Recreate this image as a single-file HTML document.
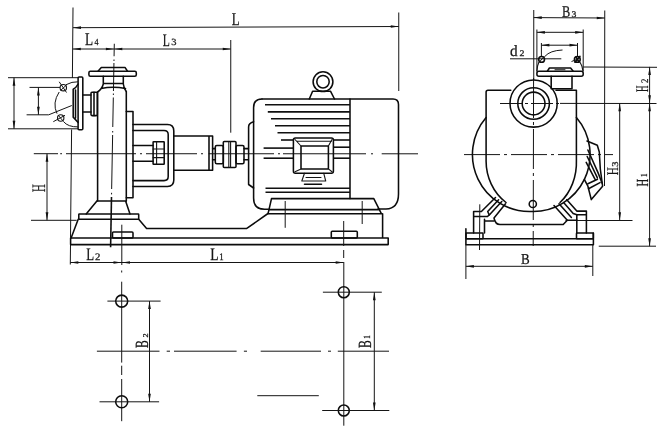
<!DOCTYPE html>
<html><head><meta charset="utf-8"><title>Pump installation dimensions</title>
<style>
html,body{margin:0;padding:0;background:#fff;}
body{width:664px;height:440px;overflow:hidden;}
svg{display:block;}
.o{fill:none;stroke:#0c0c0c;stroke-width:1.55;stroke-linecap:round;stroke-linejoin:round;}
.m{fill:none;stroke:#141414;stroke-width:1.1;stroke-linecap:round;stroke-linejoin:round;}
.f{fill:none;stroke:#101010;stroke-width:1.6;}
.d{fill:none;stroke:#151515;stroke-width:1.0;}
.c{fill:none;stroke:#151515;stroke-width:1.0;}
.a{fill:#111;stroke:none;}
.t{font-family:"Liberation Serif","DejaVu Serif",serif;fill:#161616;stroke:#161616;stroke-width:0.25;text-rendering:geometricPrecision;}
svg{will-change:transform;opacity:0.999;}
</style></head><body>
<svg width="664" height="440" viewBox="0 0 664 440">
<rect x="0" y="0" width="664" height="440" fill="#fff"/>
<line x1="73" y1="7.5" x2="72.4" y2="78" class="d" />
<line x1="71.6" y1="129.5" x2="70.5" y2="237.5" class="d" />
<line x1="73" y1="27.7" x2="398.75" y2="26.5" class="d" />
<polygon points="73.00,27.70 81.00,26.35 81.00,29.05" class="a"/>
<polygon points="398.75,26.50 390.75,25.15 390.75,27.85" class="a"/>
<line x1="398.75" y1="12.5" x2="398.75" y2="91" class="d" />
<line x1="72.8" y1="49" x2="230.75" y2="49" class="d" />
<polygon points="72.80,49.00 80.80,47.65 80.80,50.35" class="a"/>
<polygon points="113.90,49.00 105.90,47.65 105.90,50.35" class="a"/>
<polygon points="114.30,49.00 122.30,47.65 122.30,50.35" class="a"/>
<polygon points="230.75,49.00 222.75,47.65 222.75,50.35" class="a"/>
<line x1="230.75" y1="40" x2="230.75" y2="132.7" class="d" />
<line x1="114.3" y1="43.75" x2="114.07" y2="56.25" class="c" />
<line x1="114.01" y1="59.5" x2="113.98" y2="61" class="c" />
<line x1="113.95" y1="63" x2="113.44" y2="91" class="c" />
<line x1="113.39" y1="93.5" x2="113.36" y2="95" class="c" />
<line x1="113.32" y1="97.5" x2="112.78" y2="127" class="c" />
<line x1="112.71" y1="131" x2="112.68" y2="132.5" class="c" />
<line x1="112.64" y1="135" x2="111.65" y2="189" class="c" />
<line x1="111.59" y1="192.8" x2="111.56" y2="194.4" class="c" />
<line x1="111.5" y1="197" x2="110.6" y2="247.3" class="f" />
<line x1="33.8" y1="153.7" x2="58" y2="153.71" class="c" />
<line x1="60.2" y1="153.71" x2="62" y2="153.71" class="c" />
<line x1="66" y1="153.71" x2="136" y2="153.73" class="c" />
<line x1="140" y1="153.73" x2="142" y2="153.73" class="c" />
<line x1="146" y1="153.73" x2="197" y2="153.74" class="c" />
<line x1="201" y1="153.74" x2="203" y2="153.74" class="c" />
<line x1="208.6" y1="153.75" x2="274" y2="153.76" class="c" />
<line x1="278" y1="153.76" x2="280" y2="153.76" class="c" />
<line x1="283" y1="153.76" x2="366" y2="153.79" class="c" />
<line x1="371" y1="153.79" x2="373" y2="153.79" class="c" />
<line x1="381.7" y1="153.79" x2="418" y2="153.8" class="c" />
<line x1="47" y1="153.75" x2="47" y2="220.3" class="d" />
<polygon points="47.00,153.75 45.65,161.75 48.35,161.75" class="a"/>
<polygon points="47.00,220.30 45.65,212.30 48.35,212.30" class="a"/>
<line x1="31" y1="220.3" x2="76.7" y2="220.3" class="d" />
<line x1="8" y1="77.7" x2="78" y2="77.7" class="d" />
<line x1="8" y1="128.8" x2="78" y2="128.8" class="d" />
<line x1="14" y1="77.7" x2="14" y2="128.8" class="d" />
<polygon points="14.00,77.70 12.65,85.70 15.35,85.70" class="a"/>
<polygon points="14.00,128.80 12.65,120.80 15.35,120.80" class="a"/>
<line x1="29.5" y1="87.4" x2="60" y2="87.4" class="d" />
<line x1="26.6" y1="114.8" x2="48.7" y2="114.8" class="d" />
<line x1="48.7" y1="114.8" x2="71.8" y2="105.5" class="d" />
<line x1="38.4" y1="87.4" x2="38.4" y2="114.8" class="d" />
<polygon points="38.40,87.40 37.05,95.40 39.75,95.40" class="a"/>
<polygon points="38.40,114.80 37.05,106.80 39.75,106.80" class="a"/>
<line x1="70.5" y1="244.5" x2="70.3" y2="264.5" class="d" />
<line x1="70.3" y1="262.5" x2="343.7" y2="262.5" class="d" />
<polygon points="70.30,262.50 78.30,261.15 78.30,263.85" class="a"/>
<polygon points="121.50,262.50 113.50,261.15 113.50,263.85" class="a"/>
<polygon points="122.00,262.50 130.00,261.15 130.00,263.85" class="a"/>
<polygon points="343.70,262.50 335.70,261.15 335.70,263.85" class="a"/>
<rect x="78.1" y="77" width="4.7" height="52.8" rx="1" class="o"/>
<path d="M73.2 89.2 V117.3 L78.1 122.4 M73.2 89.2 Q76 88 78.1 84 M75.5 90 V118" class="o" />
<path d="M65.8 84.8 Q72 81.5 78 81.8 M63.6 121.7 Q68 127 78 126.9" class="d" />
<circle cx="63.3" cy="87.7" r="3.2" class="m"/>
<circle cx="60.7" cy="118" r="3.2" class="m"/>
<path d="M59.2 81.8 L66.5 92.5 M60.5 90.5 L66.5 85 M53.3 121.7 L65 115.3 M58 115 L63.5 121.5" class="d" />
<path d="M59.2 92 Q52 103 57 113.6" class="d" />
<path d="M82.8 95 H91 M82.8 112 H91" class="o" />
<rect x="91" y="92.2" width="6.3" height="23.4" rx="1" class="o"/>
<line x1="94" y1="92.2" x2="94" y2="115.6" class="o" />
<path d="M97.6 92 V201 M126.3 91.5 V201" class="o" />
<rect x="88.9" y="71.2" width="47.4" height="5.1" rx="1.5" class="o"/>
<path d="M98 71.2 L101.3 67.4 H125 L127.5 71.2" class="o" />
<path d="M103.3 76.3 V84 Q102 89 97.6 92 M123.3 76.3 V84 Q124 89 126.3 91.5 M103.3 83.5 H123.3 M101 88.5 Q113 86 125.5 88.5" class="o" />
<path d="M126.3 111.5 H133 V197.7 H126.3" class="o" />
<path d="M133 124.5 H167.5 Q173.8 124.5 173.8 131 V180 Q173.8 186.4 167.5 186.4 H133" class="o" />
<path d="M133 130.5 H164 Q168.2 130.5 168.2 134.5 V176.5 Q168.2 180.6 164 180.6 H133" class="o" />
<path d="M133 145.4 H153 M133 161.2 H153" class="o" />
<rect x="153.1" y="141.8" width="11.1" height="22.4" rx="0.5" class="o"/>
<path d="M153.1 149 H164.2 M153.1 157.6 H164.2 M156.6 141.8 V164.2" class="m" />
<path d="M173.8 136 H212.6 V170.2 H173.8 M209 136 V170.2" class="o" />
<path d="M212.6 148.6 H215.3 M212.6 159.7 H215.3" class="o" />
<rect x="215.3" y="145.4" width="8.0" height="18.3" rx="1.5" class="o"/>
<rect x="223.3" y="141.5" width="12.7" height="25.9" rx="1" class="o"/>
<path d="M228.8 141.5 V167.4 M230.6 141.5 V167.4" class="m" />
<rect x="236" y="145.4" width="8" height="18.3" rx="1.5" class="o"/>
<path d="M244 148.6 H248.4 M244 159.7 H248.4" class="o" />
<path d="M96.9 201 H126.3 M96.9 201 L86.2 214 M125.6 201 L130 214" class="o" />
<rect x="78.8" y="214" width="59.9" height="5.2" rx="0.5" class="o"/>
<path d="M78.2 219.2 L71.2 237.8 M138.7 219.2 L146.6 228.4 H246.8 L268 213.5" class="o" />
<path d="M70.8 238 H384 M70.6 238 V244.6 H388.2 V238 H384 M382.6 213.8 V238" class="o" />
<rect x="112.5" y="232" width="20.5" height="6" rx="1" class="o"/>
<rect x="331.3" y="231.3" width="26.0" height="6.7" rx="1" class="o"/>
<line x1="121.8" y1="224.7" x2="121.8" y2="265" class="d" />
<line x1="343.7" y1="221" x2="343.7" y2="246" class="d" />
<line x1="343.7" y1="250" x2="343.7" y2="258" class="d" />
<path d="M262 99 H393 Q398.5 99 398.5 104.5 V194 Q398.5 208.5 386 209 H378" class="o" />
<path d="M262 99 Q253.6 99 253.6 107.5 V198 Q253.6 209.3 264.5 209.3 H268.5" class="o" />
<path d="M253.6 121.8 Q248.6 123 248.6 127 V184.5 L253.6 188" class="o" />
<line x1="350" y1="99" x2="350" y2="198.6" class="o" />
<line x1="265" y1="104.8" x2="350" y2="104.8" class="f" />
<line x1="267.8" y1="111.9" x2="350" y2="111.9" class="f" />
<line x1="271" y1="118.8" x2="350" y2="118.8" class="f" />
<line x1="275" y1="125.7" x2="350" y2="125.7" class="f" />
<line x1="277.5" y1="132.8" x2="350" y2="132.8" class="f" />
<line x1="281" y1="140" x2="293.4" y2="140" class="f" />
<line x1="333.2" y1="140" x2="350" y2="140" class="f" />
<line x1="263.6" y1="148.1" x2="293.4" y2="148.1" class="f" />
<line x1="333.2" y1="147.2" x2="350" y2="147.2" class="f" />
<line x1="263.6" y1="158.2" x2="293.4" y2="158.2" class="f" />
<line x1="333.2" y1="158.2" x2="350" y2="158.2" class="f" />
<line x1="265.5" y1="188.2" x2="350" y2="188.2" class="f" />
<line x1="265.5" y1="192.3" x2="350" y2="192.3" class="f" />
<rect x="293.4" y="137.9" width="40.0" height="35.3" rx="2" class="o"/>
<rect x="301" y="146" width="27.4" height="22.9" rx="0.5" class="o"/>
<path d="M295 139.5 L301 146 M332 139.5 L328.4 146 M295 171.8 L301 168.9 M332 171.8 L328.4 168.9 M297 141.2 H331.5" class="m" />
<path d="M304.5 173.2 L301.8 181 H325.7 L323.7 173.2 M306 177.5 H321" class="m" />
<line x1="304.5" y1="184.2" x2="321.5" y2="184.2" class="o" />
<circle cx="323" cy="81.7" r="9.9" class="o"/>
<circle cx="323" cy="81.7" r="6.2" class="o"/>
<path d="M309.3 99 L312.6 91.3 H330.6 L334.5 99" class="o" />
<path d="M271.5 198.6 H373.8 L381.5 213.8 H268 L271.5 198.6 M269 209.6 H379.5" class="o" />
<line x1="285.2" y1="201" x2="285.2" y2="227.8" class="d" />
<line x1="362.2" y1="201" x2="362.2" y2="224" class="d" />
<line x1="96.9" y1="351.2" x2="159.5" y2="351.2" class="d" />
<line x1="166.7" y1="351.2" x2="170" y2="351.2" class="d" />
<line x1="174" y1="351.2" x2="236.6" y2="351.2" class="d" />
<line x1="243.9" y1="351.2" x2="247" y2="351.2" class="d" />
<line x1="260.7" y1="351.2" x2="321" y2="351.2" class="d" />
<line x1="328" y1="351.2" x2="331" y2="351.2" class="d" />
<line x1="337.8" y1="351.2" x2="389" y2="351.2" class="d" />
<line x1="121.7" y1="270.5" x2="121.7" y2="272.5" class="d" />
<line x1="121.7" y1="281.7" x2="121.7" y2="362.6" class="d" />
<line x1="121.7" y1="365.7" x2="121.7" y2="375" class="d" />
<line x1="121.7" y1="379" x2="121.7" y2="421.2" class="d" />
<line x1="343.8" y1="262" x2="343.8" y2="425.7" class="d" />
<circle cx="121.7" cy="301.1" r="6.0" class="o"/>
<circle cx="121.7" cy="401.8" r="6.0" class="o"/>
<circle cx="343.8" cy="292.2" r="5.5" class="o"/>
<circle cx="343.8" cy="410.5" r="5.5" class="o"/>
<line x1="107.4" y1="301.1" x2="160.6" y2="301.1" class="d" />
<line x1="99.5" y1="401.8" x2="159.1" y2="401.8" class="d" />
<line x1="322.9" y1="292.2" x2="381.8" y2="292.2" class="d" />
<line x1="322.2" y1="410.5" x2="389.3" y2="410.5" class="d" />
<line x1="149.5" y1="301.1" x2="149.5" y2="401.8" class="d" />
<polygon points="149.50,301.10 148.15,309.10 150.85,309.10" class="a"/>
<polygon points="149.50,401.80 148.15,393.80 150.85,393.80" class="a"/>
<line x1="374.3" y1="292.2" x2="374.3" y2="410.5" class="d" />
<polygon points="374.30,292.20 372.95,300.20 375.65,300.20" class="a"/>
<polygon points="374.30,410.50 372.95,402.50 375.65,402.50" class="a"/>
<line x1="257.3" y1="395.7" x2="318.8" y2="395.7" class="d" />
<line x1="533.75" y1="10" x2="533.75" y2="80" class="d" />
<line x1="604.75" y1="10.5" x2="604.5" y2="186" class="d" />
<line x1="533.75" y1="17.6" x2="604.75" y2="18" class="d" />
<polygon points="533.75,17.60 541.75,16.25 541.75,18.95" class="a"/>
<polygon points="604.75,18.00 596.75,16.65 596.75,19.35" class="a"/>
<line x1="536.9" y1="29.5" x2="536.9" y2="71" class="d" />
<line x1="583.2" y1="29.5" x2="583.2" y2="71" class="d" />
<line x1="536.9" y1="32.3" x2="583.2" y2="32.3" class="d" />
<polygon points="536.90,32.30 544.90,30.95 544.90,33.65" class="a"/>
<polygon points="583.20,32.30 575.20,30.95 575.20,33.65" class="a"/>
<line x1="541.4" y1="43" x2="541.4" y2="56.5" class="d" />
<line x1="577.5" y1="43" x2="577.5" y2="56.5" class="d" />
<line x1="541.4" y1="45.2" x2="577.5" y2="45.2" class="d" />
<polygon points="541.40,45.20 549.40,43.85 549.40,46.55" class="a"/>
<polygon points="577.50,45.20 569.50,43.85 569.50,46.55" class="a"/>
<line x1="510" y1="58.8" x2="561.3" y2="58.8" class="d" />
<path d="M545 56.3 Q550 50.5 562.5 50" class="d" />
<circle cx="541.6" cy="59.4" r="2.9" class="o"/>
<circle cx="577.3" cy="59.4" r="2.9" class="o"/>
<line x1="539" y1="62.5" x2="544.5" y2="56" class="d" />
<line x1="575" y1="62.3" x2="580" y2="56.3" class="o" />
<line x1="576" y1="57" x2="579" y2="62" class="o" />
<line x1="571.5" y1="61.5" x2="577" y2="59.4" class="d" />
<line x1="583.2" y1="67" x2="657" y2="67.3" class="d" />
<line x1="560" y1="103.4" x2="656.5" y2="103.5" class="d" />
<line x1="649.6" y1="66.9" x2="649.6" y2="246.2" class="d" />
<polygon points="649.60,66.90 648.25,74.90 650.95,74.90" class="a"/>
<polygon points="649.60,103.30 648.25,95.30 650.95,95.30" class="a"/>
<polygon points="649.60,103.30 648.25,111.30 650.95,111.30" class="a"/>
<polygon points="649.60,246.20 648.25,238.20 650.95,238.20" class="a"/>
<line x1="619.7" y1="103.3" x2="619.7" y2="220.3" class="d" />
<polygon points="619.70,103.30 618.35,111.30 621.05,111.30" class="a"/>
<polygon points="619.70,220.30 618.35,212.30 621.05,212.30" class="a"/>
<line x1="565.5" y1="220.5" x2="632.5" y2="220.5" class="d" />
<line x1="598.75" y1="246.2" x2="656" y2="246.2" class="d" />
<line x1="465.9" y1="244.6" x2="465.9" y2="279" class="d" />
<line x1="592.8" y1="244.6" x2="592.8" y2="276" class="d" />
<line x1="465.9" y1="266.3" x2="592.8" y2="266.3" class="d" />
<polygon points="465.90,266.30 473.90,264.95 473.90,267.65" class="a"/>
<polygon points="592.80,266.30 584.80,264.95 584.80,267.65" class="a"/>
<line x1="533.6" y1="74" x2="533.2" y2="246" class="c" stroke-dasharray="40 4 3 4" stroke-dashoffset="-4"/>
<line x1="500" y1="103.5" x2="560" y2="103.5" class="c" stroke-dasharray="22 3 3 3"/>
<line x1="464" y1="154.6" x2="613" y2="154.6" class="c" stroke-dasharray="36 4 3 4"/>
<rect x="536.9" y="71.2" width="46.3" height="5.0" rx="2" class="o"/>
<path d="M547.5 71 L549.4 68 H570.6 L573 71" class="o" />
<path d="M538.9 62.3 Q537 66 536.9 71.2 M580 62.3 Q582.6 66 583 71.2 M555 69.8 H565" class="m" />
<path d="M551.2 76.2 V88.8 H572 V76.2" class="o" />
<path d="M510.8 90.2 H488 Q486.1 90.2 486.1 92 V160 A47.6 51 0 0 0 506 202.5" class="o" />
<path d="M556 90.2 H576.4 V160 A43 51 0 0 1 560 202.5" class="o" />
<circle cx="533.6" cy="103.5" r="23.6" class="o"/>
<circle cx="533.6" cy="103.5" r="15.8" class="o"/>
<circle cx="533.6" cy="103.5" r="11.4" class="o"/>
<path d="M486.1 117.5 A57 57 0 0 0 531 211.5 A57 57 0 0 0 576.4 117.5" class="o" />
<circle cx="532.8" cy="204" r="3.6" class="o"/>
<path d="M587 141 L597.3 145.3 L599.3 152 L600.3 169 L602.6 186.2 L591.3 199.6 L587.9 186.2 L584.3 179.4" class="o" />
<path d="M587.9 150 L598 172.6 L602 183 M587.2 156.5 L597.3 177.7 M586.2 162.4 L595.6 180.3 M587.9 183.7 L597.5 179.2 M588.5 188.8 L600 182.6" class="o" />
<path d="M473.6 233 V211.5 H481.4 L495.5 197.5 M473.6 216.5 H487.5 L489.5 214.7 M484.5 219.3 V233 M484.5 221 H494" class="o" />
<path d="M498.6 199.7 L487.7 211.5 L489 214.5 M489.5 214.7 L501.8 201.5" class="o" />
<path d="M505.5 203.8 L494 218 Q495.3 224.5 500 224.5 H563.2 L567.3 220.3" class="o" />
<path d="M586.4 233 V211.1 H576.8 L566.8 199.7 M576.8 214.7 H586.4 M576.8 214.7 V233" class="o" />
<path d="M563.6 202.5 L573.2 213.4 L576.8 214.7 M559 203.8 L571.4 217.5 M554 205.6 L567.3 220.3 H577" class="o" />
<rect x="466" y="233" width="17" height="5.7" rx="0.5" class="o"/>
<rect x="576.5" y="233" width="16.8" height="5.7" rx="0.5" class="o"/>
<path d="M465.9 228.8 V244.7 H593.4 V233 M465.9 238.8 H593.4" class="o" />
<line x1="479.8" y1="204.3" x2="479.5" y2="250" class="d" />
<text x="0" y="0" font-size="18.13" class="t" transform="translate(231.84 24.80) scale(0.715 1)">L</text>
<text x="0" y="0" font-size="17.67" class="t" transform="translate(162.66 45.60) scale(0.657 1)">L</text>
<text x="0" y="0" font-size="9.47" class="t" transform="translate(171.35 45.30) scale(1.116 1)">3</text>
<text x="0" y="0" font-size="17.82" class="t" transform="translate(85.04 45.20) scale(0.747 1)">L</text>
<text x="0" y="0" font-size="9.17" class="t" transform="translate(94.60 45.20) scale(0.877 1)">4</text>
<text x="0" y="0" font-size="17.52" class="t" transform="translate(86.14 260.30) scale(0.740 1)">L</text>
<text x="0" y="0" font-size="9.91" class="t" transform="translate(94.88 260.30) scale(1.088 1)">2</text>
<text x="0" y="0" font-size="17.52" class="t" transform="translate(210.24 260.30) scale(0.779 1)">L</text>
<text x="0" y="0" font-size="9.91" class="t" transform="translate(219.32 260.30) scale(0.891 1)">1</text>
<text x="0" y="0" font-size="19.03" class="t" transform="translate(45.10 192.10) rotate(-90) scale(0.562 1)">H</text>
<text x="0" y="0" font-size="18.58" class="t" transform="translate(148.20 347.90) rotate(-90) scale(0.635 1)">B</text>
<text x="0" y="0" font-size="7.40" class="t" transform="translate(147.70 337.55) rotate(-90) scale(1.124 1)">2</text>
<text x="0" y="0" font-size="18.58" class="t" transform="translate(370.90 347.90) rotate(-90) scale(0.635 1)">B</text>
<text x="0" y="0" font-size="9.47" class="t" transform="translate(370.00 338.68) rotate(-90) scale(0.746 1)">1</text>
<text x="0" y="0" font-size="16.31" class="t" transform="translate(561.89 16.60) scale(0.756 1)">B</text>
<text x="0" y="0" font-size="8.58" class="t" transform="translate(571.58 16.60) scale(1.141 1)">3</text>
<text x="0" y="0" font-size="15.81" class="t" transform="translate(509.89 56.30) scale(0.968 1)">d</text>
<text x="0" y="0" font-size="8.58" class="t" transform="translate(519.60 56.30) scale(1.152 1)">2</text>
<text x="0" y="0" font-size="15.11" class="t" transform="translate(521.03 263.75) scale(0.862 1)">B</text>
<text x="0" y="0" font-size="17.67" class="t" transform="translate(648.30 91.97) rotate(-90) scale(0.514 1)">H</text>
<text x="0" y="0" font-size="9.91" class="t" transform="translate(648.00 82.96) rotate(-90) scale(0.884 1)">2</text>
<text x="0" y="0" font-size="16.16" class="t" transform="translate(618.40 175.21) rotate(-90) scale(0.688 1)">H</text>
<text x="0" y="0" font-size="9.02" class="t" transform="translate(618.40 166.85) rotate(-90) scale(1.171 1)">3</text>
<text x="0" y="0" font-size="16.92" class="t" transform="translate(648.00 186.50) rotate(-90) scale(0.623 1)">H</text>
<text x="0" y="0" font-size="9.32" class="t" transform="translate(647.20 176.98) rotate(-90) scale(0.758 1)">1</text>
</svg>
</body></html>
